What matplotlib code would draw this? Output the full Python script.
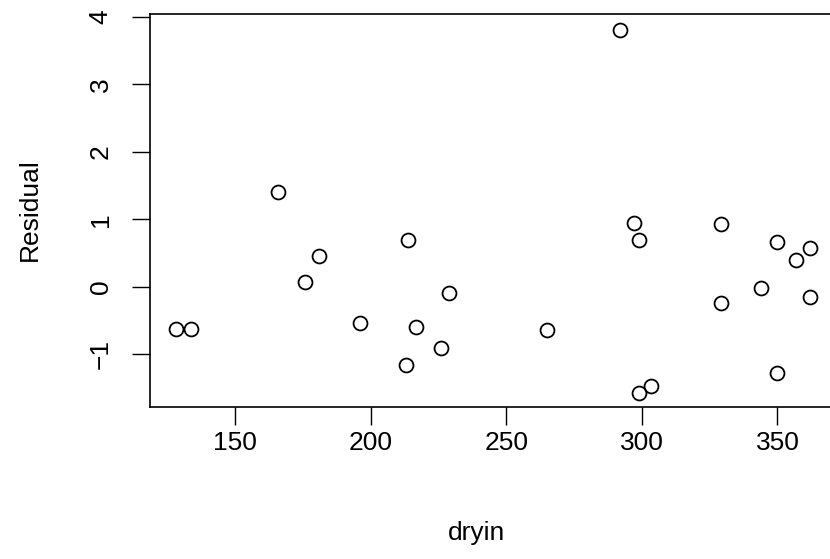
import matplotlib
matplotlib.use("Agg")
import matplotlib.pyplot as plt

dryin = [128.3, 133.8, 165.8, 175.8, 181.0, 196.1, 213.0, 213.8, 216.7, 225.9,
         228.8, 265.0, 291.9, 297.1, 299.0, 299.0, 303.2, 329.0, 329.0, 344.1,
         350.0, 350.0, 357.0, 361.9, 361.9]
residual = [-0.63, -0.63, 1.41, 0.067, 0.45, -0.54, -1.16, 0.69, -0.60, -0.91,
            -0.09, -0.65, 3.81, 0.946, 0.69, -1.58, -1.475, 0.926, -0.25, -0.02,
            0.664, -1.286, 0.393, 0.58, -0.15]
xticks = [150, 200, 250, 300, 350]
yticks = [-1, 0, 1, 2, 3, 4]
ytick_labels = ['\u22121', '0', '1', '2', '3', '4']

plt.rcParams['font.family'] = ['Liberation Sans', 'DejaVu Sans']

W, H = 830, 559
fs = 19
fig = plt.figure(figsize=(W/100, H/100), dpi=100)
left, right, top, bottom = 150, 835, 14, 407.3
ax = fig.add_axes([left/W, (H-bottom)/H, (right-left)/W, (bottom-top)/H])
ax.plot(dryin, residual, linestyle='none', marker='o', markersize=10,
        markerfacecolor='none', markeredgecolor='black', markeredgewidth=1.3, clip_on=False)
ax.set_xlim(118.7, 371.2)
ax.set_ylim(-1.79, 4.045)
ax.set_xticks(xticks)
ax.set_yticks(yticks)
ax.set_yticklabels(ytick_labels, rotation=90, va='center')
ax.tick_params(length=13, width=1.0, labelsize=fs)
ax.tick_params(axis='x', pad=4)
ax.tick_params(axis='y', pad=14)
for s in ax.spines.values():
    s.set_linewidth(1.2)
ax.set_xlabel('dryin', fontsize=fs, va='center')
ax.xaxis.set_label_coords(476/W, 1-533/H, transform=fig.transFigure)
ax.set_ylabel('Residual', fontsize=fs, va='center')
ax.yaxis.set_label_coords(30/W, 1-210/H, transform=fig.transFigure)
fig.savefig('out.png', dpi=100)
